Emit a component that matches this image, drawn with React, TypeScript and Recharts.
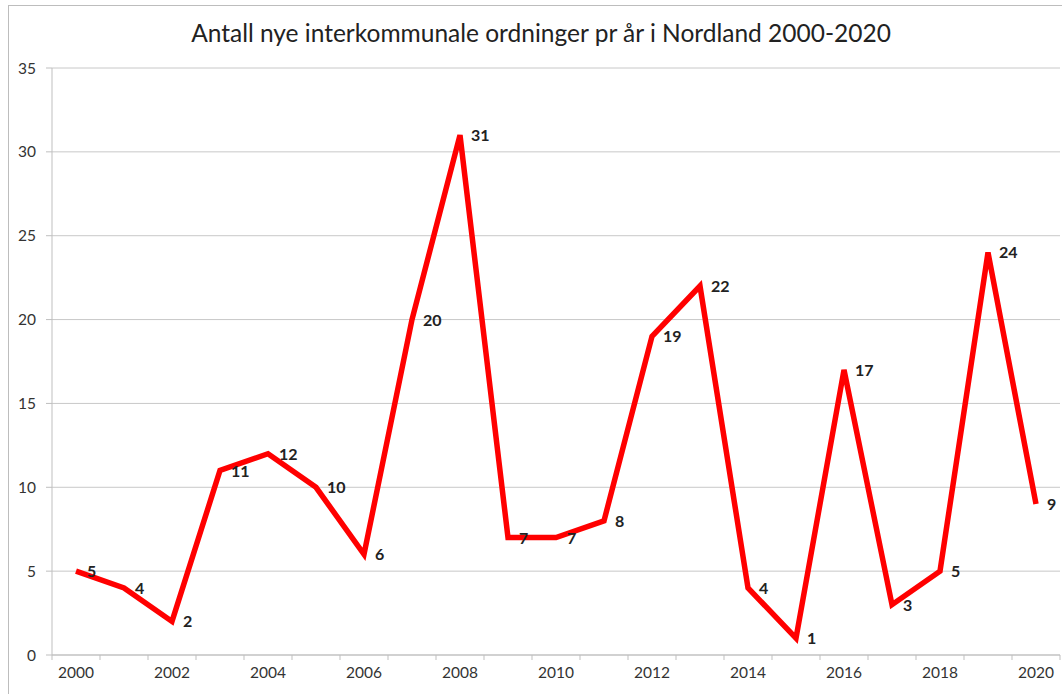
import React from 'react';
import { LineChart, Line, XAxis, YAxis, CartesianGrid, LabelList } from 'recharts';

const years = [2000, 2001, 2002, 2003, 2004, 2005, 2006, 2007, 2008, 2009, 2010, 2011, 2012, 2013, 2014, 2015, 2016, 2017, 2018, 2019, 2020];
const values = [5, 4, 2, 11, 12, 10, 6, 20, 31, 7, 7, 8, 19, 22, 4, 1, 17, 3, 5, 24, 9];
const yTicks = [0, 5, 10, 15, 20, 25, 30, 35];
const xLabelYears = [2000, 2002, 2004, 2006, 2008, 2010, 2012, 2014, 2016, 2018, 2020];
const title = 'Antall nye interkommunale ordninger pr år i Nordland 2000-2020';

const data = years.map((y, i) => ({ year: y, value: values[i] }));
const boundaryTicks = [years[0] - 0.5, ...years.map((y) => y + 0.5)];
const xTicks = [...boundaryTicks, ...xLabelYears].sort((a, b) => a - b);

const FONT = 'Lato, "Open Sans", sans-serif';

const XTick = (props: any) => {
  const { x, y, payload } = props;
  const v = payload.value;
  if (!Number.isInteger(v)) {
    return <line x1={x} x2={x} y1={y - 5} y2={y} stroke="#bfbfbf" strokeWidth={1} />;
  }
  return (
    <text x={x} y={y + 18} textAnchor="middle" fontSize={15.5} fill="#333" fontFamily={FONT}>
      {v}
    </text>
  );
};

const DataLabel = (props: any) => {
  const { x, y, value } = props;
  return (
    <text x={x + 11} y={y} dy={6} textAnchor="start" fontSize={16} fontWeight="bold" fill="#222" fontFamily={FONT}>
      {value}
    </text>
  );
};

export default function App() {
  return (
    <div style={{ position: 'absolute', left: 0, top: 0, width: 1062, height: 694, overflow: 'hidden', background: '#fff' }}>
      <div style={{ position: 'absolute', left: 8, top: 5, width: 1100, height: 800, borderTop: '1px solid #bdbdbd', borderLeft: '1px solid #bdbdbd' }} />
      <div style={{ position: 'absolute', left: 0, top: 18, width: 1082, textAlign: 'center', fontFamily: FONT, fontSize: 24.5, color: '#222' }}>
        {title}
      </div>
      <div style={{ position: 'absolute', left: 0, top: 0 }}>
        <LineChart width={1062} height={694} data={data} margin={{ top: 68, right: 2, bottom: 0, left: 0 }}>
          <CartesianGrid horizontal={true} vertical={false} stroke="#c8c8c8" />
          <XAxis
            dataKey="year"
            type="number"
            domain={[years[0] - 0.5, years[years.length - 1] + 0.5]}
            ticks={xTicks}
            interval={0}
            tick={<XTick />}
            tickLine={false}
            tickSize={5}
            tickMargin={0}
            height={39}
            stroke="#bfbfbf"
            allowDecimals={true}
          />
          <YAxis
            domain={[0, 35]}
            ticks={yTicks}
            width={52}
            stroke="#bfbfbf"
            tickSize={6}
            tickMargin={10}
            tick={{ fontSize: 15.5, fill: '#333', fontFamily: FONT }}
            interval={0}
          />
          <Line
            type="linear"
            dataKey="value"
            stroke="#ff0000"
            strokeWidth={5.5}
            dot={false}
            isAnimationActive={false}
          >
            <LabelList dataKey="value" content={<DataLabel />} />
          </Line>
        </LineChart>
      </div>
    </div>
  );
}
